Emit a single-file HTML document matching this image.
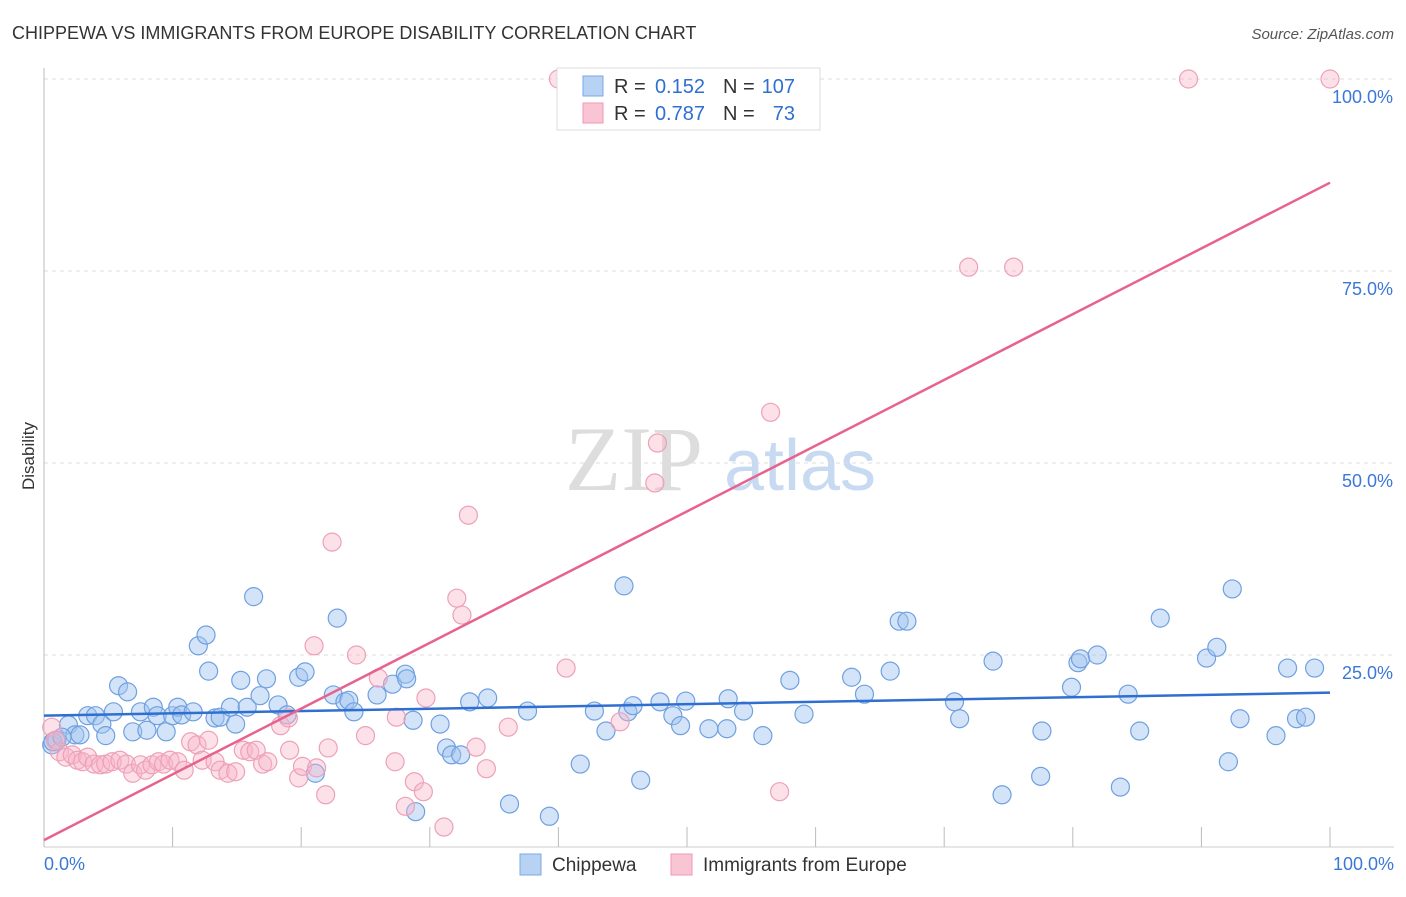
<!DOCTYPE html>
<html><head><meta charset="utf-8"><style>
body{margin:0;background:#fff;font-family:"Liberation Sans",sans-serif}
</style></head><body>
<svg id="chart" width="1406" height="892" xmlns="http://www.w3.org/2000/svg">
<text x="12" y="39" font-size="18" fill="#333">CHIPPEWA VS IMMIGRANTS FROM EUROPE DISABILITY CORRELATION CHART</text>
<text x="1394" y="39" font-size="15" fill="#555" font-style="italic" text-anchor="end">Source: ZipAtlas.com</text>
<text transform="translate(34,456) rotate(-90)" font-size="17" fill="#333" text-anchor="middle">Disability</text>
<g><text x="634" y="490" font-size="92" fill="#ddd" font-family="Liberation Serif,serif" text-anchor="middle">ZIP</text><text x="800" y="490" font-size="72" fill="#c8daf2" text-anchor="middle">atlas</text></g>
<g id="grid"></g><g id="marks"></g><g id="lines"></g>
<g>
<rect x="557" y="68" width="263" height="62" fill="#fff" stroke="#ddd"/>
<rect x="583" y="76" width="20" height="20" fill="#b8d2f4" stroke="#7aa8e4"/>
<rect x="583" y="103" width="20" height="20" fill="#f9c4d4" stroke="#ee9ab4"/>
<text x="614" y="93" font-size="20" fill="#333">R =</text>
<text x="705" y="93" font-size="20" fill="#2f6fd0" text-anchor="end">0.152</text>
<text x="723" y="93" font-size="20" fill="#333">N =</text>
<text x="795" y="93" font-size="20" fill="#2f6fd0" text-anchor="end">107</text>
<text x="614" y="120" font-size="20" fill="#333">R =</text>
<text x="705" y="120" font-size="20" fill="#2f6fd0" text-anchor="end">0.787</text>
<text x="723" y="120" font-size="20" fill="#333">N =</text>
<text x="795" y="120" font-size="20" fill="#2f6fd0" text-anchor="end">73</text>
</g>
<g>
<rect x="520" y="854" width="21" height="21" fill="#b8d2f4" stroke="#7aa8e4"/>
<text x="552" y="871" font-size="19" fill="#333">Chippewa</text>
<rect x="671" y="854" width="21" height="21" fill="#f9c4d4" stroke="#ee9ab4"/>
<text x="703" y="871" font-size="19" fill="#333">Immigrants from Europe</text>
</g>
</svg>
<script>
const yTicks=[100,75,50,25];
const yTickLabels=["100.0%","75.0%","50.0%","25.0%"];
const xTickLabels=["0.0%","100.0%"];
const blueX=[0.6,1.0,1.9,2.4,2.8,3.4,4.0,4.5,4.8,5.4,5.8,6.5,6.9,7.5,8.0,8.5,8.8,9.5,10.0,10.4,10.7,11.6,12.0,12.6,12.8,13.3,13.7,14.5,14.9,15.3,15.8,16.3,16.8,17.3,18.2,18.9,19.8,20.3,21.1,22.8,22.5,23.4,23.7,24.1,25.9,27.1,28.1,28.2,28.7,28.9,30.8,31.3,31.7,32.4,33.1,34.5,36.2,37.6,39.3,41.7,42.8,43.7,45.1,45.4,45.8,46.4,47.9,48.9,49.5,49.9,51.7,53.1,53.2,54.4,55.9,58.0,59.1,62.8,63.8,65.8,66.5,67.1,70.8,71.2,73.8,74.5,77.5,77.6,79.9,80.4,80.6,81.9,83.7,84.3,85.2,86.8,90.4,91.2,92.1,92.4,93.0,95.8,96.7,97.4,98.1,98.8,0.7,1.4];
const blueY=[13.3,13.9,15.9,14.6,14.6,17.1,17.1,16.0,14.5,17.6,21.0,20.2,15.0,17.6,15.2,18.2,17.1,15.0,17.1,18.2,17.2,17.6,26.2,27.6,22.9,16.8,16.9,18.2,16.0,21.7,18.2,32.6,19.7,21.9,18.5,17.2,22.1,22.8,9.6,29.8,19.8,18.9,19.1,17.6,19.8,21.2,22.5,21.9,16.5,4.6,16.0,12.9,12.0,12.0,18.9,19.4,5.6,17.7,4.0,10.8,17.7,15.1,34.0,17.6,18.4,8.7,18.9,17.1,15.8,19.0,15.4,15.4,19.3,17.7,14.5,21.7,17.3,22.1,19.9,22.9,29.4,29.4,18.9,16.7,24.2,6.8,9.2,15.1,20.8,24.0,24.5,25.0,7.8,19.9,15.1,29.8,24.6,26.0,11.1,33.6,16.7,14.5,23.3,16.7,16.9,23.3,13.7,14.3];
const pinkX=[0.6,0.9,1.2,1.7,2.2,2.6,3.0,3.4,3.9,4.4,4.8,5.3,5.9,6.4,6.9,7.5,7.9,8.4,8.9,9.3,9.8,10.4,10.9,11.4,11.9,12.3,12.8,13.3,13.7,14.3,14.9,15.5,16.0,16.5,17.0,17.4,18.4,19.0,19.1,19.8,20.1,21.2,21.9,21.0,22.4,22.1,24.3,25.0,26.0,27.3,27.4,28.1,28.8,29.5,29.7,31.1,32.1,32.5,33.0,33.6,34.4,36.1,40.0,40.6,44.8,47.5,47.7,56.5,57.2,71.9,75.4,89.0,100];
const pinkY=[15.6,13.9,12.4,11.7,12.0,11.3,11.1,11.7,10.8,10.7,10.8,11.1,11.3,10.8,9.6,10.7,10.0,10.7,11.1,10.8,11.3,11.1,10.0,13.7,13.3,11.3,13.9,11.1,10.0,9.6,9.8,12.6,12.4,12.6,10.8,11.1,15.8,16.8,12.6,9.0,10.5,10.3,6.8,26.2,39.7,12.9,25.0,14.5,22.0,11.1,16.9,5.3,8.5,7.2,19.4,2.6,32.4,30.2,43.2,13.0,10.2,15.6,100,23.3,16.3,47.4,52.6,56.6,7.2,75.5,75.5,100,100];
const blueTrend=[17.1,20.1];
const pinkTrend=[0.9,86.5];
const NS="http://www.w3.org/2000/svg";
const X=v=>44+v*12.86, Y=v=>847-v*7.68;
function mk(tag,attrs,parent){const e=document.createElementNS(NS,tag);for(const k in attrs)e.setAttribute(k,attrs[k]);parent.appendChild(e);return e;}
const grid=document.getElementById('grid'),marks=document.getElementById('marks'),lines=document.getElementById('lines');
yTicks.forEach((t,i)=>{
 const g=mk('line',{x1:44,x2:1394,y1:Y(t),y2:Y(t),stroke:'#ddd','stroke-dasharray':'4,4'},grid);
 
 
 const l=mk('text',{x:1393,y:Y(t)+24,'font-size':18,fill:'#3a78d8','text-anchor':'end'},grid);
 l.textContent=yTickLabels[i];
 
 
});
const ax=mk('line',{x1:44,x2:44,y1:68,y2:847,stroke:'#bbb'},grid);


const bx=mk('line',{x1:44,x2:1394,y1:847,y2:847,stroke:'#ccc'},grid);


for(let i=0;i<=10;i++){
 const t=mk('line',{x1:X(i*10),x2:X(i*10),y1:827,y2:847,stroke:'#bbb'},grid);
 
 
}
[[0,'start',44],[100,'end',1394]].forEach((d,i)=>{
 const l=mk('text',{x:d[2],y:870,'font-size':18,fill:'#3a78d8','text-anchor':d[1]},grid);
 l.textContent=xTickLabels[i];
 
 
});
blueX.forEach((x,i)=>{
 const c=mk('circle',{cx:X(x),cy:Y(blueY[i]),r:9,fill:'rgba(160,196,240,0.45)',stroke:'#6fa0e0','stroke-width':1.2},marks);
 
 
});
pinkX.forEach((x,i)=>{
 const c=mk('circle',{cx:X(x),cy:Y(pinkY[i]),r:9,fill:'rgba(248,180,200,0.4)',stroke:'#eea0b8','stroke-width':1.2},marks);
 
 
});
const bl=mk('line',{x1:X(0),y1:Y(blueTrend[0]),x2:X(100),y2:Y(blueTrend[1]),stroke:'#2f6fd0','stroke-width':2.5},lines);


const pl=mk('line',{x1:X(0),y1:Y(pinkTrend[0]),x2:X(100),y2:Y(pinkTrend[1]),stroke:'#e8628e','stroke-width':2.5},lines);


</script>
</body></html>
